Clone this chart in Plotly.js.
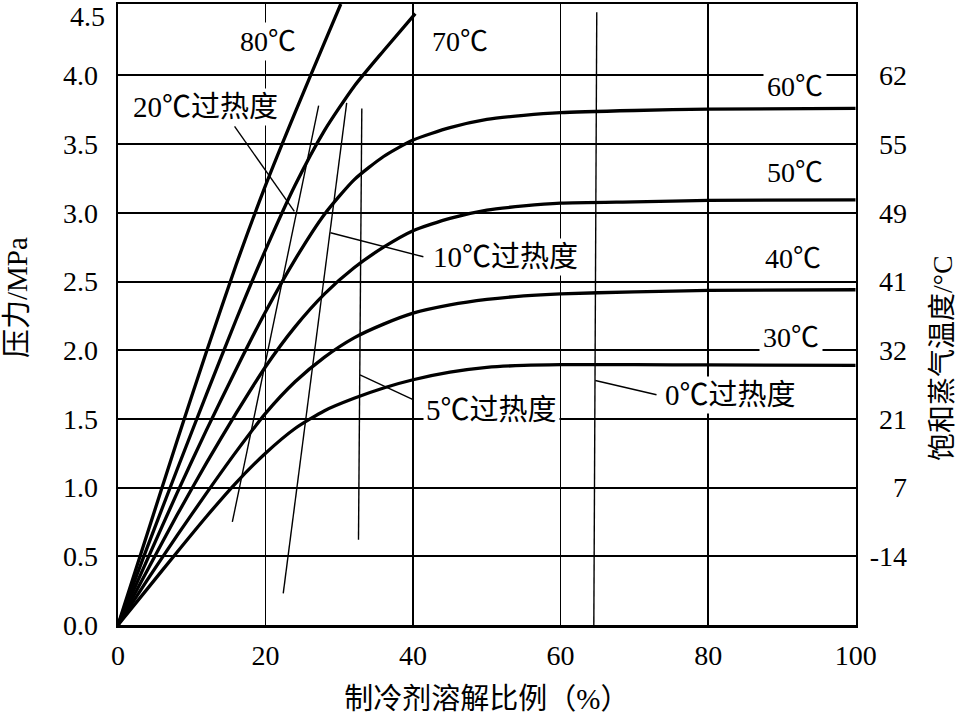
<!DOCTYPE html>
<html>
<head>
<meta charset="utf-8">
<script src="https://cdn.plot.ly/plotly-3.0.1.min.js"></script>
<style>html,body{margin:0;padding:0;background:#fff;}#chart{width:966px;height:725px;}</style>
</head>
<body>
<div id="chart"></div>
<script>
// ---- data ----
// isotherms: dissolved refrigerant ratio (%) vs pressure (MPa)
const x80 = [0, 4, 8, 12, 16, 20, 24, 28, 30.2];
const y80 = [0, 0.67, 1.34, 1.99, 2.62, 3.2, 3.73, 4.24, 4.52];
const x70 = [0, 4, 8, 12, 16, 20, 24, 28, 32, 36, 40.3];
const y70 = [0, 0.57, 1.13, 1.68, 2.22, 2.73, 3.2, 3.6, 3.92, 4.18, 4.45];
const x60 = [0, 4, 8, 12, 16, 20, 24, 28, 32, 36, 40, 45, 50, 55, 60, 70, 80, 100];
const y60 = [0, 0.48, 0.96, 1.42, 1.86, 2.28, 2.66, 2.99, 3.24, 3.41, 3.53, 3.62, 3.68, 3.71, 3.73, 3.745, 3.755, 3.76];
const x50 = [0, 4, 8, 12, 16, 20, 24, 28, 32, 36, 40, 45, 50, 55, 60, 70, 80, 100];
const y50 = [0, 0.4, 0.8, 1.18, 1.54, 1.88, 2.17, 2.41, 2.6, 2.75, 2.87, 2.96, 3.02, 3.05, 3.07, 3.08, 3.09, 3.095];
const x40 = [0, 4, 8, 12, 16, 20, 24, 28, 32, 36, 40, 45, 50, 55, 60, 70, 80, 100];
const y40 = [0, 0.33, 0.65, 0.96, 1.26, 1.54, 1.77, 1.95, 2.09, 2.19, 2.27, 2.33, 2.37, 2.395, 2.41, 2.425, 2.435, 2.44];
const x30 = [0, 4, 8, 12, 16, 20, 24, 28, 32, 36, 40, 45, 50, 55, 60, 70, 80, 100];
const y30 = [0, 0.265, 0.53, 0.79, 1.035, 1.25, 1.43, 1.56, 1.65, 1.725, 1.785, 1.84, 1.875, 1.89, 1.895, 1.895, 1.893, 1.89];

// superheat lines
const xSH20 = [15.5, 27.2];  const ySH20 = [0.75, 3.78];
const xSH10 = [22.4, 31.0];  const ySH10 = [0.23, 3.80];
const xSH5  = [32.6, 33.05]; const ySH5  = [0.62, 3.76];
const xSH0  = [64.5, 64.9];  const ySH0  = [0, 4.46];

// leader lines from labels
const xL20 = [15.8, 23.9];  const yL20 = [3.63, 3.01];
const xL10 = [28.8, 41.4];  const yL10 = [2.855, 2.68];
const xL5  = [32.8, 40.0];  const yL5  = [1.82, 1.64];
const xL0  = [64.7, 73.0];  const yL0  = [1.78, 1.676];

// labels
const isoLabels = ['80℃', '70℃', '60℃', '50℃', '40℃', '30℃'];
const isoLabelX = [20.4, 46.4, 91.8, 91.8, 91.5, 91.2];
const isoLabelY = [4.245, 4.245, 3.92, 3.29, 2.67, 2.09];
const shLabels = ['20℃过热度', '10℃过热度', '5℃过热度', '0℃过热度'];
const shLabelX = [11.8, 52.5, 50.6, 83.0];
const shLabelY = [3.77, 2.675, 1.566, 1.676];

// axes
const xTicks = [0, 20, 40, 60, 80, 100];
const yTicks = [0, 0.5, 1.0, 1.5, 2.0, 2.5, 3.0, 3.5, 4.0];
const yTopTick = [4.5];
const rightTickVals = [0.5, 1.0, 1.5, 2.0, 2.5, 3.0, 3.5, 4.0];
const rightTickText = ['-14', '7', '21', '32', '41', '49', '55', '62'];
const xTitle = '制冷剂溶解比例（%）';
const yTitle = '压力/MPa';
const y2Title = '饱和蒸气温度/°C';

// ---- drawing ----
const FONT = 'Liberation Serif, "Noto Sans CJK SC", serif';
const thick = {color: '#000', width: 3.3, shape: 'spline', smoothing: 0.6};
const thin = {color: '#000', width: 1.4};

const curves = [[x80, y80], [x70, y70], [x60, y60], [x50, y50], [x40, y40], [x30, y30]];
const thinLines = [[xSH20, ySH20], [xSH10, ySH10], [xSH5, ySH5], [xSH0, ySH0],
                   [xL20, yL20], [xL10, yL10], [xL5, yL5], [xL0, yL0]];

const traces = [];
curves.forEach(c => traces.push({x: c[0], y: c[1], mode: 'lines', line: thick, hoverinfo: 'skip', xaxis: 'x', yaxis: 'y'}));
thinLines.forEach(c => traces.push({x: c[0], y: c[1], mode: 'lines', line: thin, hoverinfo: 'skip', xaxis: 'x', yaxis: 'y'}));
traces.push({x: [0], y: [0], mode: 'markers', marker: {opacity: 0}, xaxis: 'x', yaxis: 'y2', hoverinfo: 'skip'});
traces.push({x: [0], y: [0], mode: 'markers', marker: {opacity: 0}, xaxis: 'x', yaxis: 'y3', hoverinfo: 'skip'});

const L = 118, R = 50;
const plotRightPx = 855.7;
const paperW = 966 - L - R;
const xDomEnd = (plotRightPx - L) / paperW;

const annotations = [];
isoLabels.forEach((t, i) => annotations.push({
  text: t, x: isoLabelX[i], y: isoLabelY[i], xref: 'x', yref: 'y', showarrow: false,
  xanchor: 'center', yanchor: 'middle',
  bgcolor: '#fff', borderpad: 3, font: {family: FONT, size: 28, color: '#000'}
}));
shLabels.forEach((t, i) => annotations.push({
  text: t, x: shLabelX[i], y: shLabelY[i], xref: 'x', yref: 'y', showarrow: false,
  xanchor: 'center', yanchor: 'middle',
  bgcolor: '#fff', borderpad: 2, font: {family: FONT, size: 29, color: '#000'}
}));
annotations.push({text: yTitle, xref: 'paper', yref: 'paper', x: (17 - L) / paperW, y: (625 - 298) / 621,
  xanchor: 'center', yanchor: 'middle',
  textangle: -90, showarrow: false, font: {family: FONT, size: 29, color: '#000'}});
annotations.push({text: y2Title, xref: 'paper', yref: 'paper', x: (942 - L) / paperW, y: (625 - 358) / 621,
  xanchor: 'center', yanchor: 'middle',
  textangle: -90, showarrow: false, font: {family: FONT, size: 28, color: '#000'}});

const tickFont = {family: FONT, size: 28, color: '#000'};
const layout = {
  width: 966, height: 725,
  margin: {l: L, r: R, t: 4, b: 100},
  paper_bgcolor: '#fff', plot_bgcolor: '#fff',
  showlegend: false,
  font: {family: FONT, size: 28, color: '#000'},
  xaxis: {
    domain: [0, xDomEnd], range: [0, 100], tickvals: xTicks,
    showgrid: true, gridcolor: '#000', gridwidth: 1.6,
    zeroline: false, showline: true, mirror: true, linecolor: '#000', linewidth: 2.5,
    ticks: '', ticklabelstandoff: 4,
    tickfont: tickFont,
    title: {text: xTitle, standoff: 19, font: {family: FONT, size: 29, color: '#000'}}
  },
  yaxis: {
    range: [0, 4.52], tickvals: yTicks, tickformat: '.1f',
    showgrid: true, gridcolor: '#000', gridwidth: 2,
    zeroline: false, showline: true, mirror: true, linecolor: '#000', linewidth: 2.5,
    ticks: '', ticklabelstandoff: 12,
    tickfont: tickFont
  },
  yaxis3: {
    overlaying: 'y', side: 'left', anchor: 'x',
    range: [0, 4.52], tickvals: yTopTick, tickformat: '.1f',
    showgrid: false, zeroline: false, showline: false, ticks: '',
    ticklabelstandoff: 12, ticklabelshift: 9, ticklabeloverflow: 'allow',
    tickfont: tickFont
  },
  yaxis2: {
    overlaying: 'y', side: 'right', anchor: 'free', position: (910 - L) / paperW,
    range: [0, 4.52], tickvals: rightTickVals, ticktext: rightTickText,
    ticklabelposition: 'inside', showgrid: false, zeroline: false, showline: false, ticks: '',
    tickfont: tickFont
  },
  annotations: annotations
};

Plotly.newPlot('chart', traces, layout, {staticPlot: true, displayModeBar: false});
</script>
</body>
</html>
